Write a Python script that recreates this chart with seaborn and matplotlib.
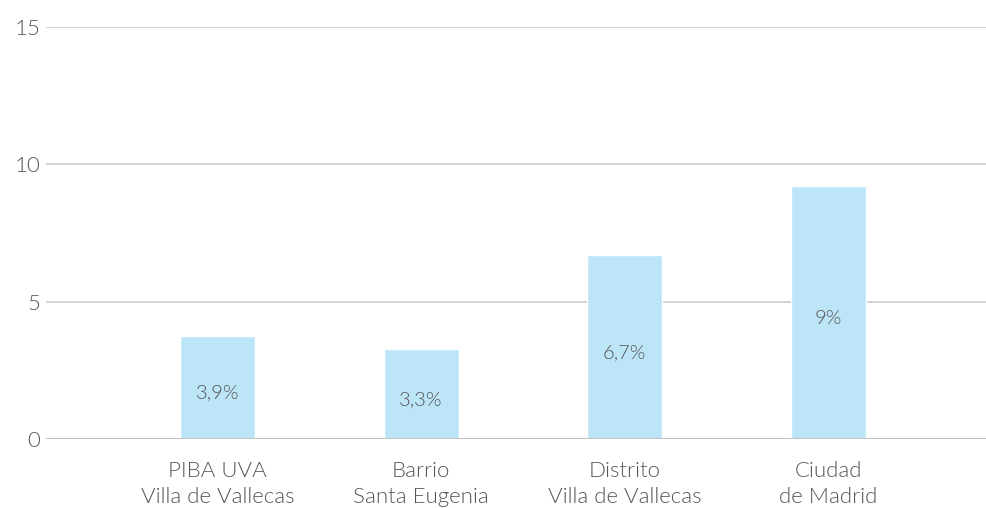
import pandas as pd
import seaborn as sns
import matplotlib.pyplot as plt

categories = ["PIBA UVA\nVilla de Vallecas", "Barrio\nSanta Eugenia",
              "Distrito\nVilla de Vallecas", "Ciudad\nde Madrid"]
values = [3.75, 3.28, 6.7, 9.22]
bar_labels = ["3,9%", "3,3%", "6,7%", "9%"]
y_ticks = [0, 5, 10, 15]

df = pd.DataFrame({"cat": categories, "val": values})

sns.set_style("white")
plt.rcParams['font.family'] = ['Lato', 'DejaVu Sans']

fig = plt.figure(figsize=(9.86, 5.08), dpi=100)
ax = fig.add_axes([0.0467, 0.1358, 0.9533, 0.8111])

sns.barplot(data=df, x="cat", y="val", color="#bde5f8", saturation=1,
            width=0.368, ax=ax, zorder=2)

ax.set_ylim(0, 15)
ax.set_xlim(-0.842, 3.774)
ax.set_yticks(y_ticks)
ax.yaxis.grid(True, color="#c8c8c8", linewidth=1.1, zorder=0)
ax.set_axisbelow(True)
ax.axhline(0, color="#bfbfbf", linewidth=2, zorder=3)
for s in ax.spines.values():
    s.set_visible(False)

ax.set_xlabel("")
ax.set_ylabel("")
ax.tick_params(axis="both", length=0, labelsize=16, labelcolor="#555555")
ax.tick_params(axis="x", pad=16)
ax.tick_params(axis="y", pad=4)
for t in ax.get_xticklabels() + ax.get_yticklabels():
    t.set_fontweight(300)
for t in ax.get_xticklabels():
    t.set_linespacing(1.35)

# value labels in the middle of each bar
for i, (v, lab) in enumerate(zip(values, bar_labels)):
    ax.annotate(lab, (i, v / 2), xytext=(0, -3), textcoords="offset points",
                ha="center", va="center_baseline", fontsize=14.5,
                color="#555555", fontweight=300, zorder=4)

fig.savefig("out.png", dpi=100)
